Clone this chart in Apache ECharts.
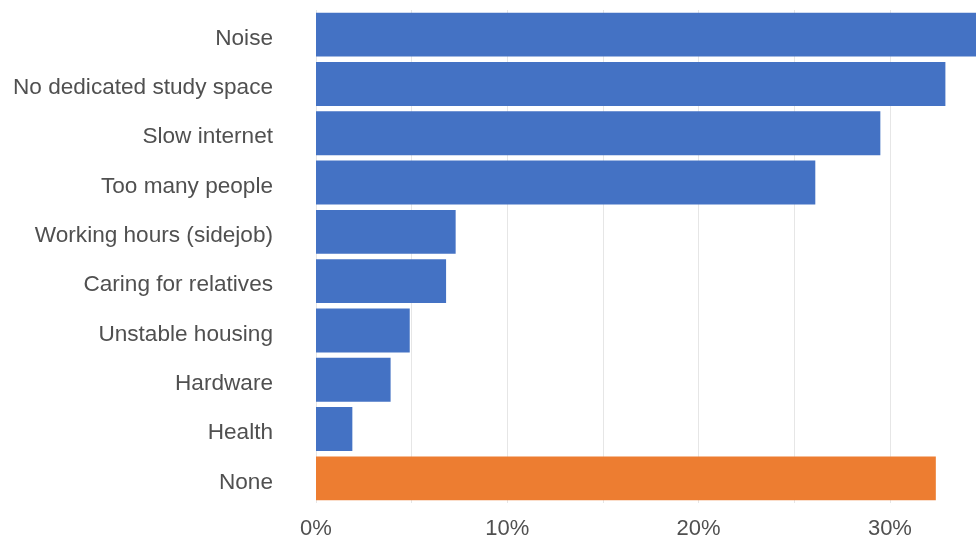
<!DOCTYPE html>
<html>
<head>
<meta charset="utf-8">
<script src="https://cdn.jsdelivr.net/npm/echarts@6/dist/echarts.min.js"></script>
<style>
  html, body { margin: 0; padding: 0; background: #fff; }
  #main { width: 976px; height: 540px; }
</style>
</head>
<body>
<div id="main"></div>
<script>
// categories top to bottom
const categories = ['Noise', 'No dedicated study space', 'Slow internet', 'Too many people',
  'Working hours (sidejob)', 'Caring for relatives', 'Unstable housing', 'Hardware', 'Health', 'None'];
// share of respondents, %
const values = [34.8, 32.9, 29.5, 26.1, 7.3, 6.8, 4.9, 3.9, 1.9, 32.4];
const xTicks = [0, 10, 20, 30];

const blue = '#4472C4';
const orange = '#ED7D31';

const chart = echarts.init(document.getElementById('main'));
const option = {
  animation: false,
  grid: { left: 316, right: 0, top: 10, bottom: 37, containLabel: false },
  xAxis: {
    type: 'value',
    min: 0,
    max: 34.5,
    interval: 5,
    axisLine: { show: false },
    axisTick: { show: false },
    splitLine: { lineStyle: { color: '#e6e6e6', width: 1 } },
    axisLabel: {
      fontFamily: 'Liberation Sans',
      fontSize: 22,
      color: '#505050',
      margin: 15,
      showMaxLabel: false,
      formatter: v => xTicks.includes(v) ? v + '%' : ''
    }
  },
  yAxis: {
    type: 'category',
    inverse: true,
    data: categories,
    axisLine: { show: false },
    axisTick: { show: false },
    axisLabel: {
      fontFamily: 'Liberation Sans',
      fontSize: 22.6,
      color: '#505050',
      margin: 43,
      verticalAlign: 'top',
      lineHeight: 8
    }
  },
  series: [{
    type: 'bar',
    clip: true,
    barCategoryGap: '11%',
    data: values.map((v, i) => ({
      value: v,
      itemStyle: { color: categories[i] === 'None' ? orange : blue }
    }))
  }]
};
chart.setOption(option);
</script>
</body>
</html>
